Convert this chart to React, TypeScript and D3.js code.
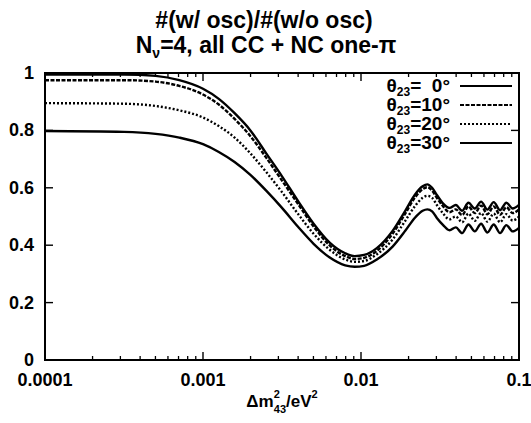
import React from "react";
import * as d3 from "d3";

// log10(Δm²) sample positions and read values
const lg0 = [-4, -3.5, -3.3, -3.15, -3.0, -2.9, -2.8, -2.7, -2.6, -2.5, -2.4, -2.3, -2.2, -2.1, -2.04, -1.98, -1.9, -1.8, -1.72, -1.66, -1.61, -1.58, -1.55, -1.52, -1.48, -1.44, -1.4, -1.36, -1.32, -1.28, -1.24, -1.2, -1.16, -1.12, -1.08, -1.04, -1.0];
const theta0 = [0.995, 0.995, 0.99, 0.975, 0.945, 0.91, 0.86, 0.8, 0.72, 0.64, 0.555, 0.475, 0.41, 0.372, 0.362, 0.366, 0.39, 0.45, 0.52, 0.575, 0.605, 0.612, 0.6, 0.575, 0.545, 0.53, 0.54, 0.52, 0.548, 0.528, 0.552, 0.524, 0.55, 0.522, 0.548, 0.528, 0.54];
const theta10 = [0.975, 0.975, 0.97, 0.955, 0.925, 0.89, 0.84, 0.78, 0.705, 0.625, 0.545, 0.465, 0.4, 0.362, 0.352, 0.356, 0.38, 0.44, 0.51, 0.565, 0.595, 0.602, 0.59, 0.565, 0.535, 0.515, 0.525, 0.505, 0.535, 0.512, 0.538, 0.508, 0.535, 0.506, 0.532, 0.512, 0.525];
const theta20 = [0.895, 0.893, 0.885, 0.87, 0.845, 0.815, 0.775, 0.72, 0.655, 0.585, 0.51, 0.44, 0.385, 0.35, 0.342, 0.345, 0.368, 0.42, 0.485, 0.535, 0.565, 0.572, 0.565, 0.54, 0.51, 0.49, 0.5, 0.48, 0.51, 0.485, 0.512, 0.482, 0.51, 0.48, 0.508, 0.486, 0.5];
const theta30 = [0.798, 0.795, 0.788, 0.775, 0.752, 0.725, 0.69, 0.645, 0.59, 0.53, 0.465, 0.405, 0.358, 0.33, 0.325, 0.328, 0.35, 0.395, 0.45, 0.495, 0.52, 0.525, 0.518, 0.495, 0.47, 0.452, 0.462, 0.442, 0.472, 0.448, 0.475, 0.444, 0.472, 0.442, 0.47, 0.448, 0.46];

const seriesNames = ["0°", "10°", "20°", "30°"];
const seriesValues = [theta0, theta10, theta20, theta30];
const seriesDash = ["", "4,1.5", "2,2", ""];

const xTicks = [0.0001, 0.001, 0.01, 0.1];
const xTickLabels = ["0.0001", "0.001", "0.01", "0.1"];
const yTicks = [0, 0.2, 0.4, 0.6, 0.8, 1];
const yTickLabels = ["0", "0.2", "0.4", "0.6", "0.8", "1"];

const W = 531, H = 423;
const left = 45, right = 519, top = 73, bottom = 360;

export default function App() {
  const x = d3.scaleLog().domain([0.0001, 0.1]).range([left, right]);
  const y = d3.scaleLinear().domain([0, 1]).range([bottom, top]);
  const line = d3.line<[number, number]>()
    .x((d) => x(Math.pow(10, d[0])))
    .y((d) => y(d[1]))
    .curve(d3.curveMonotoneX);

  const minor: number[] = [];
  for (let e = -4; e < -1; e++) {
    for (let k = 2; k <= 9; k++) minor.push(k * Math.pow(10, e));
  }
  const font = "'Liberation Sans', Arial, Helvetica, sans-serif";

  return (
    <svg width={W} height={H} style={{ position: "absolute", left: 0, top: 0, background: "#fff" }} fontFamily={font} fontWeight="bold">
      <rect x={0} y={0} width={W} height={H} fill="#fff" />
      {/* Title */}
      <text x={264} y={28} textAnchor="middle" fontSize={23}>#(w/ osc)/#(w/o osc)</text>
      <text x={266} y={53} textAnchor="middle" fontSize={23}>
        N<tspan fontSize={14} dy={5}>ν</tspan><tspan dy={-5}>=4, all CC + NC one-π</tspan>
      </text>

      {/* curves */}
      <defs>
        <clipPath id="clip"><rect x={left} y={top} width={right - left} height={bottom - top} /></clipPath>
      </defs>
      <g clipPath="url(#clip)">
        {seriesValues.map((vals, i) => (
          <path key={i} d={line(lg0.map((l, j) => [l, vals[j]] as [number, number])) || ""}
            fill="none" stroke="#000" strokeWidth={2.4} strokeDasharray={seriesDash[i]} />
        ))}
      </g>

      {/* frame */}
      <rect x={left} y={top} width={right - left} height={bottom - top} fill="none" stroke="#000" strokeWidth={2} />

      {/* x ticks */}
      {xTicks.map((t, i) => (
        <g key={"xt" + i}>
          <line x1={x(t)} x2={x(t)} y1={bottom} y2={bottom - 8} stroke="#000" strokeWidth={1.4} />
          <line x1={x(t)} x2={x(t)} y1={top} y2={top + 8} stroke="#000" strokeWidth={1.4} />
          <text x={x(t)} y={386} textAnchor="middle" fontSize={18}>{xTickLabels[i]}</text>
        </g>
      ))}
      {minor.map((t, i) => (
        <g key={"xm" + i}>
          <line x1={x(t)} x2={x(t)} y1={bottom} y2={bottom - 4} stroke="#000" strokeWidth={1.3} />
          <line x1={x(t)} x2={x(t)} y1={top} y2={top + 4} stroke="#000" strokeWidth={1.3} />
        </g>
      ))}
      {/* y ticks */}
      {yTicks.map((t, i) => (
        <g key={"yt" + i}>
          <line x1={left} x2={left + 8} y1={y(t)} y2={y(t)} stroke="#000" strokeWidth={1.4} />
          <line x1={right} x2={right - 8} y1={y(t)} y2={y(t)} stroke="#000" strokeWidth={1.4} />
          <text x={34} y={y(t) + 6} textAnchor="end" fontSize={18}>{yTickLabels[i]}</text>
        </g>
      ))}

      {/* x label */}
      <text x={282} y={407} textAnchor="middle" fontSize={17}>
        Δm<tspan fontSize={11} dy={-9}>2</tspan><tspan fontSize={11} dx={-6} dy={15}>43</tspan><tspan dy={-6}>/eV</tspan><tspan fontSize={11} dy={-9}>2</tspan>
      </text>

      {/* legend */}
      {seriesNames.map((n, i) => {
        const ly = 86 + i * 19;
        return (
          <g key={"lg" + i}>
            <text x={450} y={ly + 6} textAnchor="end" fontSize={19}>
              θ<tspan fontSize={12} dy={4}>23</tspan><tspan dy={-4}>={i === 0 ? "\u00a0\u00a0" : ""}{n}</tspan>
            </text>
            <line x1={460} x2={512} y1={ly} y2={ly} stroke="#000" strokeWidth={2} strokeDasharray={seriesDash[i]} />
          </g>
        );
      })}
    </svg>
  );
}
